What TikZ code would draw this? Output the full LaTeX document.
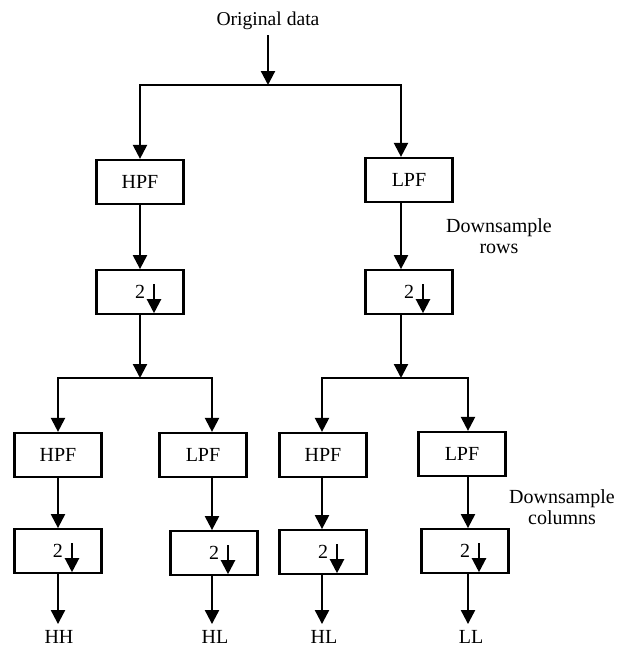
\documentclass[tikz,border=0pt]{standalone}
\usepackage{fontspec}
\setmainfont{Liberation Serif}
\usetikzlibrary{positioning,arrows.meta}
\tikzset{
  box/.style  = {draw, line width=1.1pt, align=center, inner sep=2pt,
                 font=\fontsize{10}{12}\selectfont,
                 minimum height=22pt, minimum width=43.5pt},
  filt/.style = {box},
  down/.style = {box, path picture={
                   \draw[arr] ([shift={(7pt,4pt)}]path picture bounding box.center)
                     -- ++(0,-14.5pt);}},
  arr/.style  = {-{Triangle[length=7pt,width=7pt]}, line width=1.1pt},
  lab/.style  = {font=\fontsize{10}{10.5}\selectfont, align=center, inner sep=3pt},
}

\begin{document}
\begin{tikzpicture}[x=0.5pt, y=-0.5pt]
  \useasboundingbox (0,0) rectangle (623,648);

  % first stage: rows
  \node[lab, font=\fontsize{9.8}{12}\selectfont, inner sep=2.5pt] (orig) at (268,21) {Original data};
  \coordinate (s0) at (268,85);
  \coordinate (cA) at (140,0);
  \coordinate (cB) at (401,0);
  \node[filt] (hpfA) at (140,182) {HPF};
  \node[filt] (lpfA) at (409,180) {LPF};
  \node[down, below=32pt of hpfA] (dsA) {2};
  \node[down, below=33pt of lpfA] (dsB) {2};
  \node[lab] (rows) at (499,236) {Downsample\\rows};

  \draw[arr] (orig) -- (s0);
  \draw[arr] (s0) -| (cA |- hpfA.north);
  \draw[arr] (s0) -| (cB |- lpfA.north);
  \draw[arr] (hpfA) -- (dsA);
  \draw[arr] (cB |- lpfA.south) -- (cB |- dsB.north);

  % second stage: columns
  \coordinate (sA) at (140,378);
  \coordinate (sB) at (401,378);
  \coordinate (c1) at (58,0);
  \coordinate (c2) at (212,0);
  \coordinate (c3) at (322,0);
  \coordinate (c4) at (468,0);
  \node[filt] (hpfB) at (58,455)  {HPF};
  \node[filt] (lpfB) at (203,455) {LPF};
  \node[filt] (hpfC) at (323,455) {HPF};
  \node[filt] (lpfC) at (462,454) {LPF};
  \node[down, below=25pt of hpfB] (dsC) {2};
  \node[down, below=26pt of lpfB, xshift=5.5pt] (dsD) {2};
  \node[down, below=25.5pt of hpfC] (dsE) {2};
  \node[down, below=25.5pt of lpfC, xshift=1.5pt] (dsF) {2};
  \node[lab] (cols) at (562,507) {Downsample\\columns};

  \draw[arr] (dsA) -- (sA);
  \draw[arr] (cB |- dsB.south) -- (sB);
  \draw[arr] (sA) -| (c1 |- hpfB.north);
  \draw[arr] (sA) -| (c2 |- lpfB.north);
  \draw[arr] (sB) -| (c3 |- hpfC.north);
  \draw[arr] (sB) -| (c4 |- lpfC.north);
  \draw[arr] (c1 |- hpfB.south) -- (c1 |- dsC.north);
  \draw[arr] (c2 |- lpfB.south) -- (c2 |- dsD.north);
  \draw[arr] (c3 |- hpfC.south) -- (c3 |- dsE.north);
  \draw[arr] (c4 |- lpfC.south) -- (c4 |- dsF.north);

  % outputs
  \node[lab] (oHH)  at (59,637)  {HH};
  \node[lab] (oHL)  at (215,637) {HL};
  \node[lab] (oHL2) at (324,637) {HL};
  \node[lab] (oLL)  at (471,637) {LL};
  \draw[arr] (c1 |- dsC.south) -- (c1 |- oHH.north);
  \draw[arr] (c2 |- dsD.south) -- (c2 |- oHL.north);
  \draw[arr] (c3 |- dsE.south) -- (c3 |- oHL2.north);
  \draw[arr] (c4 |- dsF.south) -- (c4 |- oLL.north);
\end{tikzpicture}
\end{document}
